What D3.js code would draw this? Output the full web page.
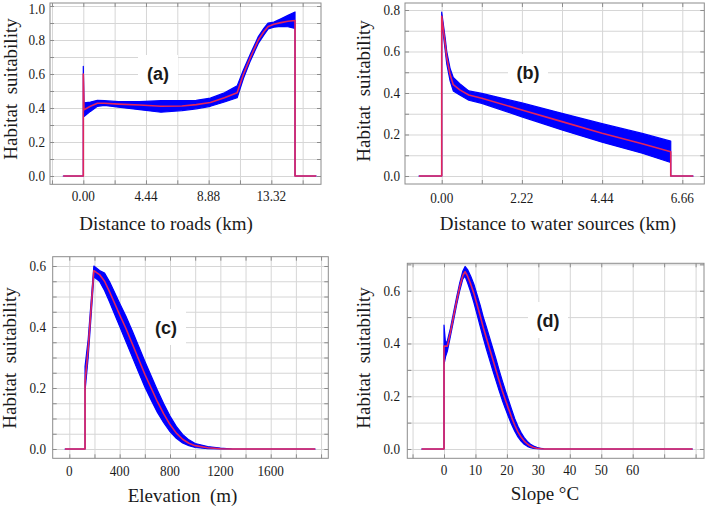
<!DOCTYPE html>
<html><head><meta charset="utf-8">
<script src="https://cdn.jsdelivr.net/npm/d3@7"></script>
<style>body{margin:0;background:#fff}svg{display:block}text{white-space:pre}</style>
</head><body>
<svg id="chart" width="709" height="506"></svg>
<script>
// ---------- data ----------
// (a) Distance to roads (km)
const roadsKm   = [-1.42, 0, 0, 0.05, 0.5, 1.0, 1.5, 2.5, 4.0, 5.5, 7.0, 8.0, 9.0, 10.0, 10.9, 11.35, 11.85, 12.4, 12.8, 13.1, 13.5, 14.0, 14.5, 15.0, 15.0, 16.5];
const roadsMean = [0, 0, 0.6, 0.39, 0.41, 0.428, 0.428, 0.423, 0.418, 0.41, 0.412, 0.42, 0.432, 0.46, 0.49, 0.6, 0.7, 0.8, 0.85, 0.88, 0.893, 0.902, 0.91, 0.915, 0, 0];
const roadsLo   = [0, 0, 0.35, 0.35, 0.38, 0.41, 0.415, 0.405, 0.39, 0.375, 0.385, 0.395, 0.41, 0.435, 0.46, 0.575, 0.68, 0.78, 0.83, 0.865, 0.875, 0.88, 0.878, 0.868, 0, 0];
const roadsHi   = [0, 0, 0.645, 0.43, 0.435, 0.445, 0.443, 0.437, 0.438, 0.443, 0.443, 0.445, 0.458, 0.49, 0.53, 0.625, 0.72, 0.82, 0.87, 0.9, 0.905, 0.925, 0.945, 0.965, 0, 0];
const roadsXTicks = [0, 4.44, 8.88, 13.32];
const roadsXTickLabels = ["0.00", "4.44", "8.88", "13.32"];
const roadsYTicks = [0, 0.2, 0.4, 0.6, 0.8, 1.0];
const roadsYTickLabels = ["0.0", "0.2", "0.4", "0.6", "0.8", "1.0"];
const roadsXGrid = [-2.22, 0, 2.22, 4.44, 6.66, 8.88, 11.1, 13.32, 15.54];
const roadsYGrid = [0, 0.1, 0.2, 0.3, 0.4, 0.5, 0.6, 0.7, 0.8, 0.9, 1.0];

// (b) Distance to water sources (km)
const waterKm   = [-0.63, 0, 0, 0.1, 0.14, 0.23, 0.32, 0.5, 0.75, 1.11, 2.22, 3.33, 4.44, 5.55, 6.34, 6.34, 6.96];
const waterMean = [0, 0, 0.77, 0.63, 0.57, 0.49, 0.44, 0.415, 0.39, 0.375, 0.318, 0.262, 0.206, 0.155, 0.117, 0, 0];
const waterLo   = [0, 0, 0.75, 0.6, 0.54, 0.46, 0.41, 0.39, 0.365, 0.35, 0.285, 0.222, 0.163, 0.11, 0.065, 0, 0];
const waterHi   = [0, 0, 0.79, 0.66, 0.6, 0.52, 0.475, 0.445, 0.41, 0.398, 0.352, 0.302, 0.252, 0.205, 0.168, 0, 0];
const waterXTicks = [0, 2.22, 4.44, 6.66];
const waterXTickLabels = ["0.00", "2.22", "4.44", "6.66"];
const waterYTicks = [0, 0.2, 0.4, 0.6, 0.8];
const waterYTickLabels = ["0.0", "0.2", "0.4", "0.6", "0.8"];
const waterXGrid = [0, 1.11, 2.22, 3.33, 4.44, 5.55, 6.66];
const waterYGrid = [0, 0.1, 0.2, 0.3, 0.4, 0.5, 0.6, 0.7, 0.8];

// (c) Elevation (m)
const elevM    = [-34, 125, 125, 150, 195, 240, 280, 320, 360, 400, 450, 500, 550, 600, 650, 700, 750, 800, 850, 900, 950, 1000, 1100, 1200, 1300, 1953];
const elevMean = [0, 0, 0.22, 0.33, 0.585, 0.572, 0.55, 0.515, 0.478, 0.44, 0.395, 0.345, 0.295, 0.245, 0.2, 0.155, 0.115, 0.08, 0.052, 0.032, 0.019, 0.011, 0.004, 0.001, 0, 0];
const elevLo   = [0, 0, 0.19, 0.30, 0.565, 0.55, 0.52, 0.482, 0.442, 0.402, 0.352, 0.302, 0.252, 0.203, 0.161, 0.12, 0.086, 0.057, 0.035, 0.02, 0.011, 0.005, 0.001, 0, 0, 0];
const elevHi   = [0, 0, 0.27, 0.36, 0.6, 0.585, 0.577, 0.548, 0.513, 0.478, 0.435, 0.388, 0.338, 0.288, 0.24, 0.193, 0.148, 0.108, 0.074, 0.048, 0.03, 0.018, 0.008, 0.003, 0, 0];
const elevXTicks = [0, 400, 800, 1200, 1600];
const elevXTickLabels = ["0", "400", "800", "1200", "1600"];
const elevYTicks = [0, 0.2, 0.4, 0.6];
const elevYTickLabels = ["0.0", "0.2", "0.4", "0.6"];
const elevXGrid = [0, 200, 400, 600, 800, 1000, 1200, 1400, 1600, 1800, 2000];
const elevYGrid = [0, 0.05, 0.1, 0.15, 0.2, 0.25, 0.3, 0.35, 0.4, 0.45, 0.5, 0.55, 0.6];

// (d) Slope
const slopeDeg  = [-7.1, 0, 0, 0.5, 1.06, 2, 3, 4, 5, 6, 6.7, 7.5, 8.5, 9.5, 10.5, 11.5, 12.5, 13.5, 14.5, 15.5, 16.5, 17.5, 18.5, 19.5, 20.5, 21.5, 22.5, 23.5, 24.5, 25.5, 26.5, 27.5, 28.5, 29.5, 31, 32, 79];
const slopeMean = [0, 0, 0.39, 0.39, 0.39, 0.44, 0.5, 0.56, 0.615, 0.658, 0.672, 0.655, 0.625, 0.59, 0.548, 0.505, 0.46, 0.42, 0.38, 0.34, 0.3, 0.26, 0.222, 0.187, 0.153, 0.12, 0.09, 0.065, 0.045, 0.03, 0.019, 0.011, 0.006, 0.003, 0.001, 0, 0];
const slopeLo   = [0, 0, 0.32, 0.35, 0.37, 0.425, 0.485, 0.545, 0.6, 0.645, 0.655, 0.63, 0.595, 0.555, 0.51, 0.465, 0.42, 0.378, 0.338, 0.298, 0.26, 0.222, 0.186, 0.153, 0.122, 0.093, 0.067, 0.046, 0.030, 0.018, 0.010, 0.005, 0.002, 0.001, 0, 0, 0];
const slopeHi   = [0, 0, 0.47, 0.40, 0.41, 0.455, 0.515, 0.575, 0.63, 0.675, 0.692, 0.68, 0.655, 0.625, 0.585, 0.545, 0.5, 0.462, 0.422, 0.382, 0.342, 0.3, 0.26, 0.222, 0.186, 0.15, 0.115, 0.086, 0.062, 0.043, 0.029, 0.018, 0.011, 0.006, 0.002, 0, 0];
const slopeXTicks = [0, 10, 20, 30, 40, 50, 60];
const slopeXTickLabels = ["0", "10", "20", "30", "40", "50", "60"];
const slopeYTicks = [0, 0.2, 0.4, 0.6];
const slopeYTickLabels = ["0.0", "0.2", "0.4", "0.6"];
const slopeXGrid = [-10, 0, 10, 20, 30, 40, 50, 60, 70, 80];
const slopeYGrid = [0, 0.1, 0.2, 0.3, 0.4, 0.5, 0.6, 0.7];

const yTitle = "Habitat  suitability";

// ---------- layout ----------
const panels = [
  { id: "a", frame: [50, 321, 3, 184.3], xdom: [-2.359, 16.84], ydom: [-0.0488, 1.0176],
    x: roadsKm, mean: roadsMean, lo: roadsLo, hi: roadsHi,
    xt: roadsXTicks, xtl: roadsXTickLabels, yt: roadsYTicks, ytl: roadsYTickLabels, gx: roadsXGrid, gy: roadsYGrid,
    xTitle: "Distance to roads (km)", xTitlePos: [166, 230], yTitlePos: [17, 89], xLabBase: 201, yLabEnd: 45,
    tag: "(a)", tagPos: [158, 73] },
  { id: "b", frame: [405, 704.3, 3, 184], xdom: [-1.016, 7.269], ydom: [-0.0386, 0.8337],
    x: waterKm, mean: waterMean, lo: waterLo, hi: waterHi,
    xt: waterXTicks, xtl: waterXTickLabels, yt: waterYTicks, ytl: waterYTickLabels, gx: waterXGrid, gy: waterYGrid,
    xTitle: "Distance to water sources (km)", xTitlePos: [558, 230], yTitlePos: [370, 91], xLabBase: 203, yLabEnd: 400,
    tag: "(b)", tagPos: [528, 72] },
  { id: "c", frame: [52.7, 328.3, 256.7, 458.3], xdom: [-131.9, 2057.5], ydom: [-0.0305, 0.6305],
    x: elevM, mean: elevMean, lo: elevLo, hi: elevHi,
    xt: elevXTicks, xtl: elevXTickLabels, yt: elevYTicks, ytl: elevYTickLabels, gx: elevXGrid, gy: elevYGrid,
    xTitle: "Elevation  (m)", xTitlePos: [182.5, 502], yTitlePos: [16, 358], xLabBase: 476, yLabEnd: 46,
    tag: "(c)", tagPos: [166, 327] },
  { id: "d", frame: [407.3, 704, 263.3, 458.3], xdom: [-11.67, 82.67], ydom: [-0.0353, 0.704],
    x: slopeDeg, mean: slopeMean, lo: slopeLo, hi: slopeHi,
    xt: slopeXTicks, xtl: slopeXTickLabels, yt: slopeYTicks, ytl: slopeYTickLabels, gx: slopeXGrid, gy: slopeYGrid,
    xTitle: "Slope \u00B0C", xTitlePos: [545, 500], yTitlePos: [370, 358], xLabBase: 475, yLabEnd: 400,
    tag: "(d)", tagPos: [548, 320] }
];

const svg = d3.select("#chart");
const serif = "'Liberation Serif','Times New Roman',serif";
const tickFont = 15, tickSX = 0.88, titleFont = 19;
const gridColor = "#d6d6d6", frameColor = "#8c8c8c", textColor = "#1a1a1a";
const redColor = "#e3245c", blueColor = "#0000ff";

panels.forEach(p => {
  const [x0, x1, y0, y1] = p.frame;
  const w = x1 - x0, h = y1 - y0;
  const xs = d3.scaleLinear().domain(p.xdom).range([x0, x1]);
  const ys = d3.scaleLinear().domain(p.ydom).range([y1, y0]);
  const g = svg.append("g");

  // grid
  const gridX = g.append("g").attr("transform", `translate(0,${y1})`)
    .call(d3.axisBottom(xs).tickValues(p.gx).tickSize(-h).tickFormat(""));
  const gridY = g.append("g").attr("transform", `translate(${x0},0)`)
    .call(d3.axisLeft(ys).tickValues(p.gy).tickSize(-w).tickFormat(""));
  [gridX, gridY].forEach(s => { s.select(".domain").remove(); s.selectAll("line").attr("stroke", gridColor).attr("stroke-width", 1); });

  // inward frame ticks
  const tk = 4;
  const axes = [
    g.append("g").attr("transform", `translate(0,${y1})`).call(d3.axisBottom(xs).tickValues(p.gx).tickSize(-tk).tickFormat("")),
    g.append("g").attr("transform", `translate(0,${y0})`).call(d3.axisTop(xs).tickValues(p.gx).tickSize(-tk).tickFormat("")),
    g.append("g").attr("transform", `translate(${x0},0)`).call(d3.axisLeft(ys).tickValues(p.gy).tickSize(-tk).tickFormat("")),
    g.append("g").attr("transform", `translate(${x1},0)`).call(d3.axisRight(ys).tickValues(p.gy).tickSize(-tk).tickFormat(""))
  ];
  axes.forEach(s => { s.select(".domain").remove(); s.selectAll("line").attr("stroke", frameColor); });

  // tag with white box
  const tg = g.append("g").attr("transform", `translate(${p.tagPos[0]},${p.tagPos[1]})`);
  tg.append("rect").attr("x", -20).attr("y", -18).attr("width", 40).attr("height", 36).attr("fill", "#fff");
  tg.append("text").attr("text-anchor", "middle").attr("y", 6.5)
    .attr("font-family", "'Liberation Sans',Arial,sans-serif").attr("font-weight", "bold").attr("font-size", 18)
    .attr("fill", textColor).text(p.tag);

  // data
  const clipId = "clip-" + p.id;
  svg.append("clipPath").attr("id", clipId).append("rect").attr("x", x0).attr("y", y0).attr("width", w).attr("height", h);
  const idx = d3.range(p.x.length);
  const dg = g.append("g").attr("clip-path", `url(#${clipId})`);
  dg.append("path").datum(idx)
    .attr("d", d3.area().x(i => xs(p.x[i])).y0(i => ys(p.lo[i])).y1(i => ys(p.hi[i])))
    .attr("fill", blueColor).attr("stroke", blueColor).attr("stroke-width", 1.2).attr("stroke-linejoin", "round");
  dg.append("path").datum(idx)
    .attr("d", d3.line().x(i => xs(p.x[i])).y(i => ys(p.mean[i])))
    .attr("fill", "none").attr("stroke", redColor).attr("stroke-width", 1.6).attr("stroke-linejoin", "round");

  // frame
  g.append("rect").attr("x", x0).attr("y", y0).attr("width", w).attr("height", h)
    .attr("fill", "none").attr("stroke", frameColor).attr("stroke-width", 1);

  // tick labels
  g.append("g").selectAll("text").data(p.xt).join("text")
    .attr("transform", (d) => `translate(${xs(d)},${p.xLabBase}) scale(${tickSX},1)`)
    .attr("text-anchor", "middle").attr("font-family", serif).attr("font-size", tickFont).attr("fill", textColor)
    .text((d, i) => p.xtl[i]);
  g.append("g").selectAll("text").data(p.yt).join("text")
    .attr("transform", (d) => `translate(${p.yLabEnd},${Math.max(ys(d) + 5, 14)}) scale(${tickSX},1)`)
    .attr("text-anchor", "end").attr("font-family", serif).attr("font-size", tickFont).attr("fill", textColor)
    .text((d, i) => p.ytl[i]);

  // titles
  g.append("text").attr("transform", `translate(${p.xTitlePos[0]},${p.xTitlePos[1]})`)
    .attr("text-anchor", "middle").attr("font-family", serif).attr("font-size", titleFont).attr("fill", textColor)
    .text(p.xTitle);
  g.append("text").attr("transform", `translate(${p.yTitlePos[0]},${p.yTitlePos[1]}) rotate(-90)`)
    .attr("text-anchor", "middle").attr("font-family", serif).attr("font-size", titleFont).attr("fill", textColor)
    .text(yTitle);
});
</script>
</body></html>
